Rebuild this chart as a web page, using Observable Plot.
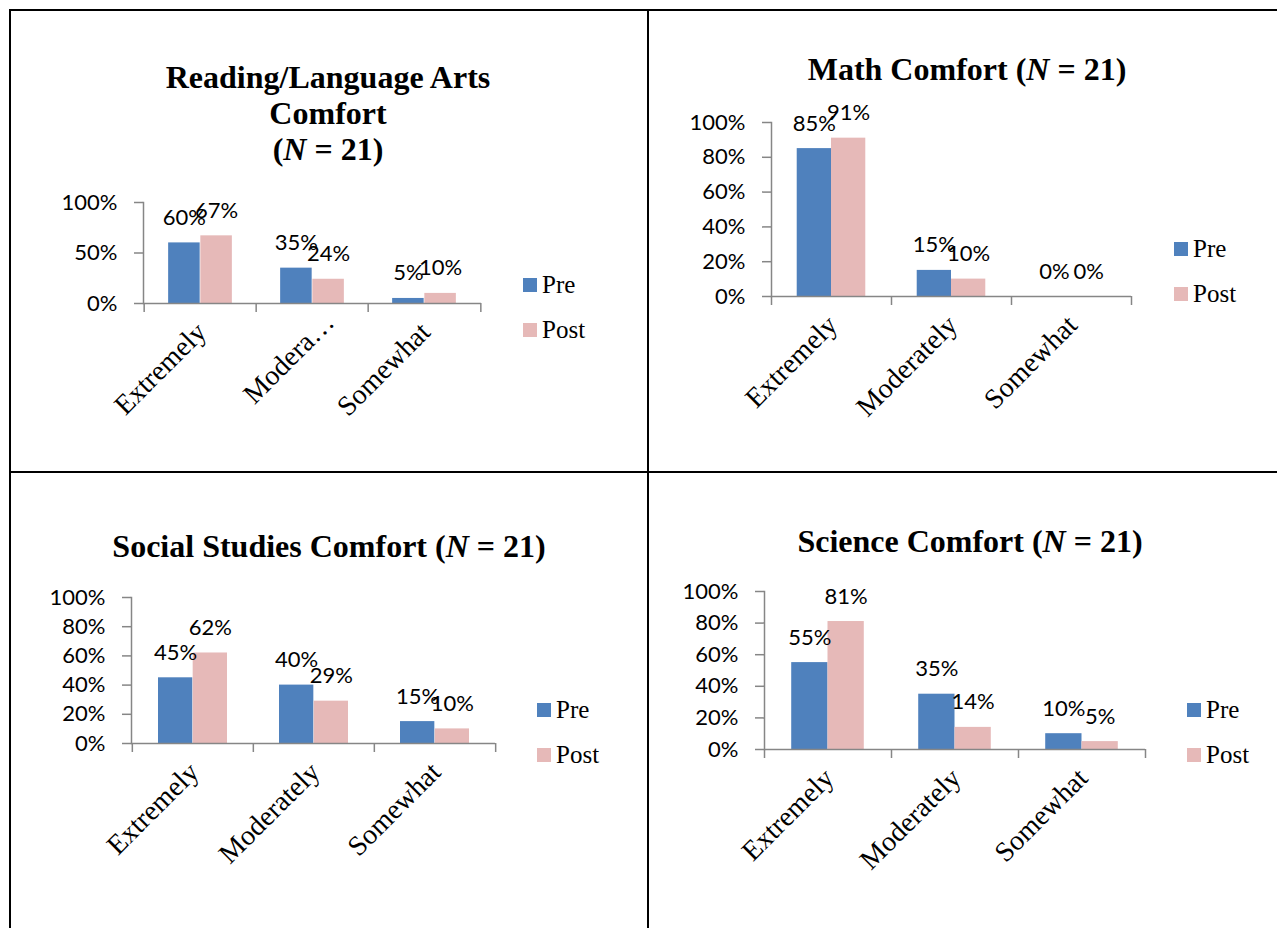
<!DOCTYPE html>
<html>
<head>
<meta charset="utf-8">
<script src="https://cdn.jsdelivr.net/npm/d3@7"></script>
<script src="https://cdn.jsdelivr.net/npm/@observablehq/plot@0.6"></script>
<style>
  body { margin: 0; background: #fff; }
  #page { position: relative; width: 1277px; height: 928px; overflow: hidden; background: #fff; }
  .line { position: absolute; background: #000; }
  .title { position: absolute; width: 640px; text-align: center; font-family: "Liberation Serif", "Times New Roman", serif; font-weight: bold; font-size: 32px; line-height: 36px; color: #000; white-space: nowrap; }
  .leg { position: absolute; font-family: "Liberation Serif", "Times New Roman", serif; font-size: 25px; line-height: 25px; color: #000; white-space: nowrap; }
  .sw { position: absolute; width: 14px; height: 14px; }
  .panel { position: absolute; }
</style>
</head>
<body>
<div id="page"></div>
<script>
// ---------- data ----------
const categories = ["Extremely", "Moderately", "Somewhat"];
const seriesNames = ["Pre", "Post"];
const seriesColors = ["#4F81BD", "#E6B9B8"];

const readingTitle = ["Reading/Language Arts", "Comfort", "(N = 21)"];
const readingTickLabels = ["Extremely", "Modera…", "Somewhat"];
const readingPre = [60, 35, 5];
const readingPost = [67, 24, 10];
const readingYTicks = [0, 50, 100];

const mathTitle = ["Math Comfort (N = 21)"];
const mathTickLabels = ["Extremely", "Moderately", "Somewhat"];
const mathPre = [85, 15, 0];
const mathPost = [91, 10, 0];
const mathYTicks = [0, 20, 40, 60, 80, 100];

const socialTitle = ["Social Studies Comfort (N = 21)"];
const socialTickLabels = ["Extremely", "Moderately", "Somewhat"];
const socialPre = [45, 40, 15];
const socialPost = [62, 29, 10];
const socialYTicks = [0, 20, 40, 60, 80, 100];

const scienceTitle = ["Science Comfort (N = 21)"];
const scienceTickLabels = ["Extremely", "Moderately", "Somewhat"];
const sciencePre = [55, 35, 10];
const sciencePost = [81, 14, 5];
const scienceYTicks = [0, 20, 40, 60, 80, 100];

// ---------- layout ----------
const page = document.getElementById("page");
const gray = "#868686";

function addLine(l, t, w, h) {
  const d = document.createElement("div");
  d.className = "line";
  Object.assign(d.style, {left: l + "px", top: t + "px", width: w + "px", height: h + "px"});
  page.appendChild(d);
}
addLine(9, 9, 1268, 2);
addLine(9, 9, 2, 919);
addLine(647, 9, 2, 919);
addLine(9, 471, 1268, 2);

function drawPanel(cfg) {
  const {title, tickLabels, pre, post, yTicks, left, top, width, height, mt, mr, mb, ml, titleX, titleBaseline, legX, legY, labelShift} = cfg;
  const rows = categories.flatMap((c, i) => [
    {cat: c, series: seriesNames[0], value: pre[i]},
    {cat: c, series: seriesNames[1], value: post[i]}
  ]);
  const W = (width - ml - mr) / categories.length;
  const barW = W / 3.5;
  const outer = W * 0.75 / 3.5;
  const preRows = rows.filter(d => d.series === seriesNames[0]);
  const postRows = rows.filter(d => d.series === seriesNames[1]);

  const catLabelAxes = categories.map((c, i) => {
    const [sx, sy] = (labelShift && labelShift[i]) || [0, 0];
    return Plot.axisX([c], {tickSize: 0, tickPadding: 24, tickRotate: -45, dx: 1 + sx, dy: sy,
      tickFormat: d => tickLabels[categories.indexOf(d)], fill: "black", fontSize: 28,
      fontFamily: "Liberation Serif, Times New Roman, serif", label: null});
  });

  const chart = Plot.plot({
    width, height,
    marginTop: mt, marginRight: mr, marginBottom: mb, marginLeft: ml,
    style: {fontFamily: "Lato, sans-serif", fontSize: "22px", background: "transparent", overflow: "visible"},
    x: {type: "band", domain: categories, padding: 0},
    y: {domain: [0, 100]},
    color: {domain: seriesNames, range: seriesColors},
    marks: [
      Plot.barY(preRows, {x: "cat", y: "value", fill: "series", insetLeft: outer, insetRight: W / 2}),
      Plot.barY(postRows, {x: "cat", y: "value", fill: "series", insetLeft: W / 2, insetRight: outer}),
      Plot.ruleY([0], {stroke: gray, strokeWidth: 1.5}),
      Plot.frame({anchor: "left", stroke: gray, strokeWidth: 1.5}),
      Plot.axisY({ticks: yTicks, tickFormat: d => d + "%", tickSize: 9, tickPadding: 17, stroke: gray, strokeWidth: 1.5, fill: "black", fontSize: 22, fontFamily: "Lato, sans-serif", label: null}),
      Plot.axisX({tickSize: 9, dx: -W / 2, fill: "none", stroke: gray, strokeWidth: 1.5, label: null}),
      Plot.axisX([categories[categories.length - 1]], {tickSize: 9, dx: W / 2, fill: "none", stroke: gray, strokeWidth: 1.5, label: null}),
      ...catLabelAxes,
      Plot.text(preRows, {x: "cat", y: "value", text: d => d.value + "%", dx: -barW / 2, dy: -18, lineAnchor: "bottom", fontSize: 22, fontFamily: "Lato, sans-serif", fill: "black"}),
      Plot.text(postRows, {x: "cat", y: "value", text: d => d.value + "%", dx: barW / 2, dy: -18, lineAnchor: "bottom", fontSize: 22, fontFamily: "Lato, sans-serif", fill: "black"})
    ]
  });
  const wrap = document.createElement("div");
  wrap.className = "panel";
  wrap.style.left = left + "px";
  wrap.style.top = top + "px";
  wrap.appendChild(chart);
  page.appendChild(wrap);

  // title
  const t = document.createElement("div");
  t.className = "title";
  t.style.left = (titleX - 320) + "px";
  t.style.top = (titleBaseline - 28.8) + "px";
  t.innerHTML = title.map(s => s.replace(/\bN\b/, "<i>N</i>")).join("<br>");
  page.appendChild(t);

  // legend
  seriesNames.forEach((name, i) => {
    const sw = document.createElement("div");
    sw.className = "sw";
    sw.style.left = legX + "px";
    sw.style.top = (legY + i * 45) + "px";
    sw.style.background = seriesColors[i];
    page.appendChild(sw);
    const tx = document.createElement("div");
    tx.className = "leg";
    tx.style.left = (legX + 19) + "px";
    tx.style.top = (legY + i * 45 - 6) + "px";
    tx.textContent = name;
    page.appendChild(tx);
  });
}

drawPanel({title: readingTitle, tickLabels: readingTickLabels, pre: readingPre, post: readingPost, yTicks: readingYTicks,
  left: 11, top: 11, width: 636, height: 460, mt: 191, mr: 166, mb: 168, ml: 132,
  titleX: 328, titleBaseline: 88, legX: 523, legY: 278, labelShift: [[0, 0], [16, -10], [0, 0]]});
drawPanel({title: mathTitle, tickLabels: mathTickLabels, pre: mathPre, post: mathPost, yTicks: mathYTicks,
  left: 649, top: 11, width: 628, height: 460, mt: 111, mr: 146, mb: 175, ml: 122,
  titleX: 967, titleBaseline: 80, legX: 1174, legY: 242});
drawPanel({title: socialTitle, tickLabels: socialTickLabels, pre: socialPre, post: socialPost, yTicks: socialYTicks,
  left: 11, top: 473, width: 636, height: 455, mt: 124, mr: 152, mb: 185, ml: 120,
  titleX: 329, titleBaseline: 557, legX: 537, legY: 703});
drawPanel({title: scienceTitle, tickLabels: scienceTickLabels, pre: sciencePre, post: sciencePost, yTicks: scienceYTicks,
  left: 649, top: 473, width: 628, height: 455, mt: 118, mr: 132, mb: 179, ml: 115,
  titleX: 970, titleBaseline: 552, legX: 1187, legY: 703});
</script>
</body>
</html>
